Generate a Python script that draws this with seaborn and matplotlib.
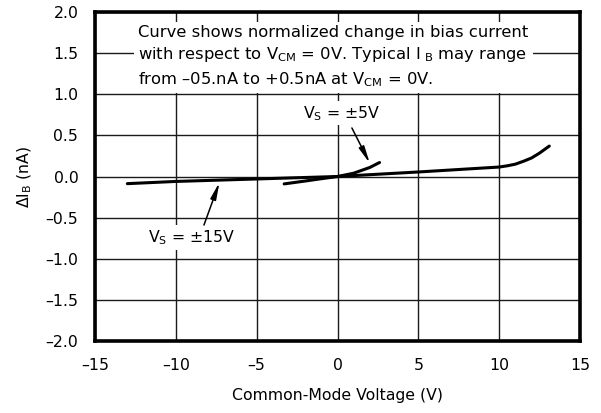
import matplotlib
matplotlib.use("Agg")
import matplotlib.pyplot as plt
import seaborn as sns
import pandas as pd

# Data
vcm_15 = [-13.0, -10.0, -5.0, 0.0, 5.0, 10.0, 10.5, 11.0, 11.5, 12.0, 12.5, 13.1]
dib_15 = [-0.087, -0.06, -0.03, 0.0, 0.055, 0.115, 0.13, 0.15, 0.185, 0.225, 0.285, 0.37]
vcm_5 = [-3.3, -2.0, -1.0, 0.0, 1.0, 2.0, 2.6]
dib_5 = [-0.09, -0.055, -0.027, 0.0, 0.04, 0.11, 0.17]
x_ticks = [-15, -10, -5, 0, 5, 10, 15]
y_ticks = [-2.0, -1.5, -1.0, -0.5, 0.0, 0.5, 1.0, 1.5, 2.0]

sns.set_style("white")
plt.rcParams['font.family'] = ['DejaVu Sans']
plt.rcParams['mathtext.fontset'] = 'dejavusans'
plt.rcParams['mathtext.default'] = 'regular'
plt.rcParams['text.color'] = 'black'
plt.rcParams['axes.labelcolor'] = 'black'

df = pd.concat([
    pd.DataFrame({'Vcm': vcm_15, 'dIb': dib_15, 'Vs': '±15V'}),
    pd.DataFrame({'Vcm': vcm_5, 'dIb': dib_5, 'Vs': '±5V'}),
])

FS = 11.3

fig = plt.figure(figsize=(6.01, 4.13), dpi=100)
ax = fig.add_axes([95/601, 72/413, 485/601, 329/413])

sns.lineplot(data=df, x='Vcm', y='dIb', units='Vs', estimator=None,
             color='black', lw=2.2, ax=ax, sort=False, zorder=4)

ax.set_xlim(-15, 15)
ax.set_ylim(-2, 2)
ax.set_xticks(x_ticks)
ax.set_yticks(y_ticks)
ax.set_xticklabels([f"{t:d}" if t >= 0 else f"\u2013{abs(t):d}" for t in x_ticks])
ax.set_yticklabels([f"{t:.1f}" if t >= 0 else f"\u2013{abs(t):.1f}" for t in y_ticks])
ax.grid(True, color='#1a1a1a', lw=1.0)
ax.set_axisbelow(True)
ax.tick_params(axis='both', length=0, labelsize=FS, colors='black')
ax.tick_params(axis='y', pad=12)
ax.tick_params(axis='x', pad=12)
for s in ax.spines.values():
    s.set_linewidth(2.6)
    s.set_color('black')
    s.set_zorder(6)

ax.set_xlabel('Common-Mode Voltage (V)', fontsize=FS, labelpad=11)
ax.set_ylabel(r'$\Delta$I$_{\mathrm{B}}$ (nA)', fontsize=FS, labelpad=8)

note = ("Curve shows normalized change in bias current\n"
        "with respect to V$_{\\mathrm{CM}}$ = 0V. Typical I$_{\\ \\mathrm{B}}$ may range\n"
        "from \u201305.nA to +0.5nA at V$_{\\mathrm{CM}}$ = 0V.")
ax.text(0.089, 0.962, note, transform=ax.transAxes, ha='left', va='top',
        fontsize=11.8, linespacing=1.42, zorder=5,
        bbox=dict(facecolor='white', edgecolor='none', pad=3))

ax.text(0.27, 0.77, 'V$_{\\mathrm{S}}$ = ±5V', ha='center', va='center', fontsize=FS,
        zorder=5, bbox=dict(facecolor='white', edgecolor='none', pad=2))
ax.text(-9.0, -0.74, 'V$_{\\mathrm{S}}$ = ±15V', ha='center', va='center', fontsize=FS,
        zorder=5, bbox=dict(facecolor='white', edgecolor='none', pad=2))

arrow = dict(arrowstyle='-|>,head_length=1.0,head_width=0.17', color='black', lw=1.1,
             shrinkA=0, shrinkB=0)
ax.annotate('', xy=(2.0, 0.16), xytext=(0.89, 0.59), arrowprops=arrow, zorder=5)
ax.annotate('', xy=(-7.3, -0.07), xytext=(-8.26, -0.59), arrowprops=arrow, zorder=5)

fig.savefig('out.png', dpi=100, facecolor='white')
